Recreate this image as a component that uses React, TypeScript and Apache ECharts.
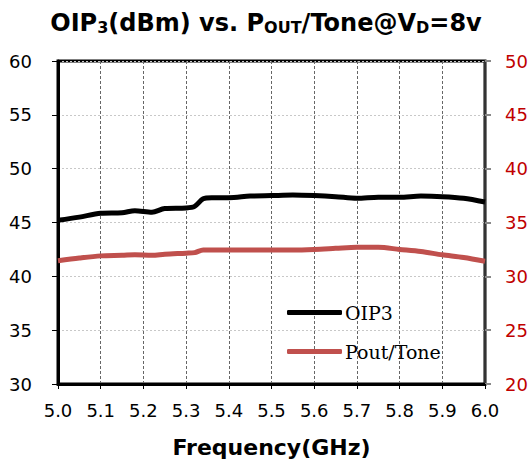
import React, { useEffect, useRef } from "react";
import * as echarts from "echarts";

const freq = [5.0, 5.05, 5.1, 5.15, 5.18, 5.22, 5.25, 5.3, 5.32, 5.34, 5.36, 5.4, 5.45, 5.5, 5.55, 5.6, 5.65, 5.7, 5.75, 5.8, 5.85, 5.9, 5.95, 6.0];
const oip3 = [45.2, 45.5, 45.85, 45.9, 46.1, 45.95, 46.3, 46.35, 46.5, 47.2, 47.3, 47.3, 47.45, 47.5, 47.55, 47.5, 47.4, 47.25, 47.35, 47.35, 47.45, 47.4, 47.25, 46.9];
const poutTone = [31.45, 31.7, 31.9, 31.95, 32.0, 31.95, 32.05, 32.15, 32.2, 32.45, 32.45, 32.45, 32.45, 32.45, 32.45, 32.5, 32.6, 32.7, 32.7, 32.5, 32.3, 32.0, 31.75, 31.4];
const xTicks = { min: 5.0, max: 6.0, interval: 0.1 };
const leftTicks = { min: 30, max: 60, interval: 5 };
const rightTicks = { min: 20, max: 50, interval: 5 };

export default function App() {
  const ref = useRef<HTMLDivElement>(null);
  useEffect(() => {
    const chart = echarts.init(ref.current!, null, { renderer: "svg" });
    const axisFont = { fontFamily: "DejaVu Sans", fontSize: 18 };
    chart.setOption({
      animation: false,
      backgroundColor: "#fff",
      title: {
        text: "OIP{s|3}(dBm) vs. P{s|OUT}/Tone@V{s|D}=8v",
        left: "center",
        top: 6,
        textStyle: {
          fontFamily: "DejaVu Sans",
          fontWeight: "bold",
          fontSize: 24,
          color: "#000",
          rich: {
            s: { fontFamily: "DejaVu Sans", fontWeight: "bold", fontSize: 16, color: "#000", verticalAlign: "bottom", padding: [7, 0, 0, 0] },
          },
        },
      },
      grid: { left: 58, right: 47, top: 61, bottom: 79, show: true, borderColor: "#000", borderWidth: 3, containLabel: false, outerBoundsMode: "none" },
      legend: {
        orient: "vertical",
        left: 282,
        top: 298,
        itemWidth: 55,
        itemHeight: 5,
        itemGap: 20,
        icon: "roundRect",
        textStyle: { fontFamily: "DejaVu Serif", fontSize: 19, color: "#000", padding: [0, 0, 0, -2] },
        data: ["OIP3", "Pout/Tone"],
      },
      xAxis: {
        type: "value",
        ...xTicks,
        name: "Frequency(GHz)",
        nameLocation: "middle",
        nameGap: 52,
        nameTextStyle: { fontFamily: "DejaVu Sans", fontWeight: "bold", fontSize: 22, color: "#000" },
        axisLine: { lineStyle: { color: "#000", width: 3 } },
        axisTick: { show: true, length: 5, lineStyle: { color: "#000", width: 1 } },
        axisLabel: { ...axisFont, color: "#000", margin: 17, formatter: (v: number) => v.toFixed(1) },
        splitLine: { show: true, lineStyle: { color: "#666", type: [3, 2], width: 1 } },
      },
      yAxis: [
        {
          type: "value",
          ...leftTicks,
          axisLine: { show: true, lineStyle: { color: "#000", width: 3 } },
          axisTick: { show: true, length: 6, lineStyle: { color: "#000", width: 1 } },
          axisLabel: { ...axisFont, color: "#000", margin: 26 },
          splitLine: { show: true, lineStyle: { color: "#c8c8c8", type: [2, 2], width: 1 } },
        },
        {
          type: "value",
          ...rightTicks,
          position: "right",
          axisLine: { show: true, lineStyle: { color: "#333", width: 2 } },
          axisTick: { show: true, length: 6, lineStyle: { color: "#888", width: 2 } },
          axisLabel: { ...axisFont, color: "#c00000", margin: 20 },
          splitLine: { show: false },
        },
      ],
      series: [
        {
          name: "OIP3",
          type: "line",
          yAxisIndex: 0,
          smooth: 0.3,
          showSymbol: false,
          lineStyle: { color: "#000", width: 5 },
          itemStyle: { color: "#000" },
          data: freq.map((f, i) => [f, oip3[i]]),
        },
        {
          name: "Pout/Tone",
          type: "line",
          yAxisIndex: 1,
          smooth: 0.3,
          showSymbol: false,
          lineStyle: { color: "#c0504d", width: 5 },
          itemStyle: { color: "#c0504d" },
          data: freq.map((f, i) => [f, poutTone[i]]),
        },
      ],
    });
    return () => chart.dispose();
  }, []);
  return <div ref={ref} style={{ width: 532, height: 463, position: "absolute", left: 0, top: 0 }} />;
}
